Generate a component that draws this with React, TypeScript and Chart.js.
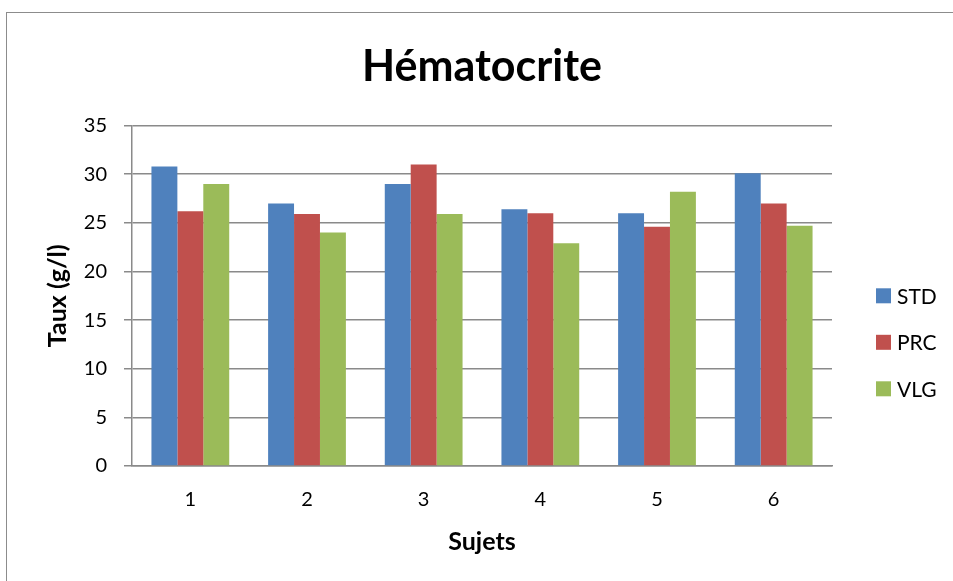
import { useEffect, useRef } from "react";
import { Chart, registerables } from "chart.js";

Chart.register(...registerables);

// Hématocrite par sujet, trois groupes
const subjects = ["1", "2", "3", "4", "5", "6"];
const stdValues = [30.8, 27.0, 29.0, 26.4, 26.0, 30.1];
const prcValues = [26.2, 25.9, 31.0, 26.0, 24.6, 27.0];
const vlgValues = [29.0, 24.0, 25.9, 22.9, 28.2, 24.7];
const seriesNames = ["STD", "PRC", "VLG"];
const seriesColors = ["#4F81BD", "#C0504D", "#9BBB59"];
const yMin = 0;
const yMax = 35;
const yStep = 5;

const FONT = "Lato, 'DejaVu Sans', sans-serif";
const GRID = "#8a8a8a";

// Legend drawn to the right of the plot
const sideLegend = {
  id: "sideLegend",
  afterDraw(chart: any) {
    const { ctx, chartArea } = chart;
    const sets = chart.data.datasets;
    const gap = 46.5;
    const startY = (chartArea.top + chartArea.bottom) / 2;
    const boxX = chartArea.right + 44;
    const box = 15;
    ctx.save();
    ctx.font = `21px ${FONT}`;
    ctx.textBaseline = "middle";
    ctx.textAlign = "left";
    sets.forEach((ds: any, i: number) => {
      const y = startY + i * gap;
      ctx.fillStyle = ds.backgroundColor;
      ctx.fillRect(boxX, y - box / 2, box, box);
      ctx.fillStyle = "#000";
      ctx.fillText(ds.label, boxX + box + 6, y + 1);
    });
    ctx.restore();
  },
};

export default function App() {
  const canvasRef = useRef<HTMLCanvasElement | null>(null);

  useEffect(() => {
    const canvas = canvasRef.current;
    if (!canvas) return;
    const values = [stdValues, prcValues, vlgValues];
    const chart = new Chart(canvas, {
      type: "bar",
      data: {
        labels: subjects,
        datasets: seriesNames.map((name, i) => ({
          label: name,
          data: values[i],
          backgroundColor: seriesColors[i],
          borderWidth: 0,
          categoryPercentage: 3 / 4.5,
          barPercentage: 1,
        })),
      },
      options: {
        responsive: false,
        animation: false,
        layout: { padding: { left: 0, right: 121, top: 0, bottom: 0 } },
        plugins: {
          legend: { display: false },
          tooltip: { enabled: false },
          title: {
            display: true,
            text: "Hématocrite",
            fullSize: false,
            color: "#000",
            font: { family: FONT, size: 43, weight: "bold" },
            padding: { top: 41, bottom: 33 },
          },
        },
        scales: {
          x: {
            afterFit(scale: any) {
              scale.height = 115;
            },
            grid: { display: false, drawTicks: false },
            border: { display: true, color: GRID, width: 1.5 },
            ticks: {
              color: "#000",
              font: { family: FONT, size: 20 },
              padding: 22,
            },
            title: {
              display: true,
              text: "Sujets",
              color: "#000",
              font: { family: FONT, size: 25, weight: "bold" },
              padding: { top: 0, bottom: 24 },
            },
          },
          y: {
            min: yMin,
            max: yMax,
            afterFit(scale: any) {
              scale.width = 132;
            },
            ticks: {
              stepSize: yStep,
              color: "#000",
              font: { family: FONT, size: 20 },
              padding: 17,
            },
            grid: {
              color: GRID,
              lineWidth: 1.5,
              tickLength: 8,
            },
            border: { display: true, color: GRID, width: 1.5 },
            title: {
              display: true,
              text: "Taux (g/l)",
              color: "#000",
              font: { family: FONT, size: 25, weight: "bold" },
              padding: { top: 43, bottom: 0 },
            },
          },
        },
      },
      plugins: [sideLegend],
    });
    return () => chart.destroy();
  }, []);

  return (
    <div
      style={{
        position: "fixed",
        left: 0,
        top: 0,
        width: 953,
        height: 581,
        overflow: "hidden",
        background: "#fff",
      }}
    >
      <div
        style={{
          position: "absolute",
          left: 6,
          top: 12,
          width: 980,
          height: 620,
          border: "1.5px solid #8c8c8c",
          boxSizing: "border-box",
        }}
      />
      <canvas
        ref={canvasRef}
        width={953}
        height={581}
        style={{ position: "absolute", left: 0, top: 0, width: 953, height: 581 }}
      />
    </div>
  );
}
